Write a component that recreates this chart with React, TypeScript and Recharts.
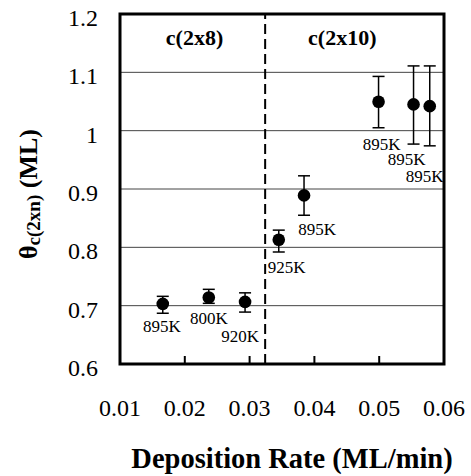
import {
  ScatterChart,
  Scatter,
  ErrorBar,
  XAxis,
  YAxis,
  CartesianGrid,
  ReferenceLine,
  ReferenceArea,
  ReferenceDot,
} from "recharts";

// deposition rate (ML/min)
const RATES = [0.0166, 0.0237, 0.0293, 0.0345, 0.0384, 0.0499, 0.0553, 0.0578];
// coverage theta c(2xn) (ML)
const COVERAGE = [0.703, 0.714, 0.7065, 0.813, 0.889, 1.0495, 1.045, 1.042];
const ERR_LOW = [0.016, 0.01, 0.0175, 0.021, 0.034, 0.0445, 0.068, 0.068];
const ERR_HIGH = [0.013, 0.014, 0.0155, 0.0165, 0.0336, 0.0435, 0.066, 0.069];
const TEMPS = ["895K", "800K", "920K", "925K", "895K", "895K", "895K", "895K"];

const X_TICKS = [0.01, 0.02, 0.03, 0.04, 0.05, 0.06];
const Y_TICKS = [0.6, 0.7, 0.8, 0.9, 1.0, 1.1, 1.2];
const BOUNDARY = 0.0324;
const PHASES = [
  { x: 0.0215, text: "c(2x8)" },
  { x: 0.0443, text: "c(2x10)" },
];

// label nudges [dx, dy] relative to the marker centre
const LABEL_NUDGE = [
  [-1, 28], [0, 26], [-5, 40], [8, 33], [13, 40], [3, 48], [-7, 61], [-5, 76],
];

const FONT = "Liberation Serif, serif";

const rows = RATES.map((x, i) => ({
  i,
  x,
  y: COVERAGE[i],
  err: [ERR_LOW[i], ERR_HIGH[i]],
  temp: TEMPS[i],
}));

function Dot(props: any) {
  const { cx, cy, payload } = props;
  const [dx, dy] = LABEL_NUDGE[payload.i];
  return (
    <g>
      <circle cx={cx} cy={cy} r={6.3} fill="#000" />
      <text x={cx + dx} y={cy + dy} textAnchor="middle" style={{ fontSize: 17, fontFamily: FONT }} fill="#000">
        {payload.temp}
      </text>
    </g>
  );
}

function XTick(props: any) {
  const { x, y, payload } = props;
  return (
    <g>
      <line x1={x} x2={x} y1={y} y2={y - 8} stroke="#000" strokeWidth={2} />
      <text x={x} y={y + 52} textAnchor="middle" style={{ fontSize: 24, fontFamily: FONT }} fill="#000">
        {payload.value}
      </text>
    </g>
  );
}

function YTick(props: any) {
  const { x, y, payload } = props;
  return (
    <text x={x - 22} y={y + 12} textAnchor="end" style={{ fontSize: 24, fontFamily: FONT }} fill="#000">
      {payload.value === 1 ? "1" : payload.value.toFixed(1)}
    </text>
  );
}

function XLabel(props: any) {
  const vb = props.viewBox;
  return (
    <text
      x={vb.x + vb.width / 2 + 10}
      y={vb.y + 104}
      textAnchor="middle"
      style={{ fontSize: 28.5, fontWeight: "bold", fontFamily: FONT }}
      fill="#000"
    >
      Deposition Rate (ML/min)
    </text>
  );
}

function YLabel() {
  const cx = 37;
  const cy = 194;
  return (
    <text
      x={cx}
      y={cy}
      transform={`rotate(-90, ${cx}, ${cy})`}
      textAnchor="middle"
      style={{ fontSize: 26, fontWeight: "bold", fontFamily: FONT }}
      fill="#000"
    >
      θ
      <tspan style={{ fontSize: 19 }} dy={3}>c(2xn)</tspan>
      <tspan dy={-3}> (ML)</tspan>
    </text>
  );
}

function PhaseLabel(text: string) {
  return (props: any) => {
    const vb = props.viewBox;
    return (
      <text
        x={vb.x}
        y={vb.y + 31}
        textAnchor="middle"
        style={{ fontSize: 22, fontWeight: "bold", fontFamily: FONT }}
        fill="#000"
      >
        {text}
      </text>
    );
  };
}

export default function App() {
  return (
    <div style={{ position: "absolute", left: 0, top: 0, background: "#fff", fontFamily: FONT }}>
      <ScatterChart width={471} height={476} margin={{ top: 14, right: 27, left: 0, bottom: 0 }}>
        <CartesianGrid vertical={false} stroke="#444" strokeWidth={1} />
        <XAxis
          type="number"
          dataKey="x"
          domain={[0.01, 0.06]}
          ticks={X_TICKS}
          allowDataOverflow
          height={112}
          axisLine={false}
          tickLine={false}
          tickSize={0}
          tickMargin={0}
          tick={<XTick />}
          label={<XLabel />}
        />
        <YAxis
          type="number"
          dataKey="y"
          domain={[0.6, 1.2]}
          ticks={Y_TICKS}
          allowDataOverflow
          width={120}
          axisLine={false}
          tickLine={false}
          tickSize={0}
          tickMargin={0}
          tick={<YTick />}
          label={<YLabel />}
        />
        <ReferenceLine x={BOUNDARY} stroke="#000" strokeWidth={2} strokeDasharray="10 5" />
        {PHASES.map((p) => (
          <ReferenceDot key={p.text} x={p.x} y={1.2} r={0} fill="none" stroke="none" label={PhaseLabel(p.text)} />
        ))}
        <Scatter data={rows} shape={<Dot />} isAnimationActive={false}>
          <ErrorBar dataKey="err" direction="y" width={6} stroke="#000" strokeWidth={1.5} isAnimationActive={false} />
        </Scatter>
        <ReferenceArea x1={0.01} x2={0.06} y1={0.6} y2={1.2} fill="none" stroke="#000" strokeWidth={3} />
      </ScatterChart>
    </div>
  );
}
